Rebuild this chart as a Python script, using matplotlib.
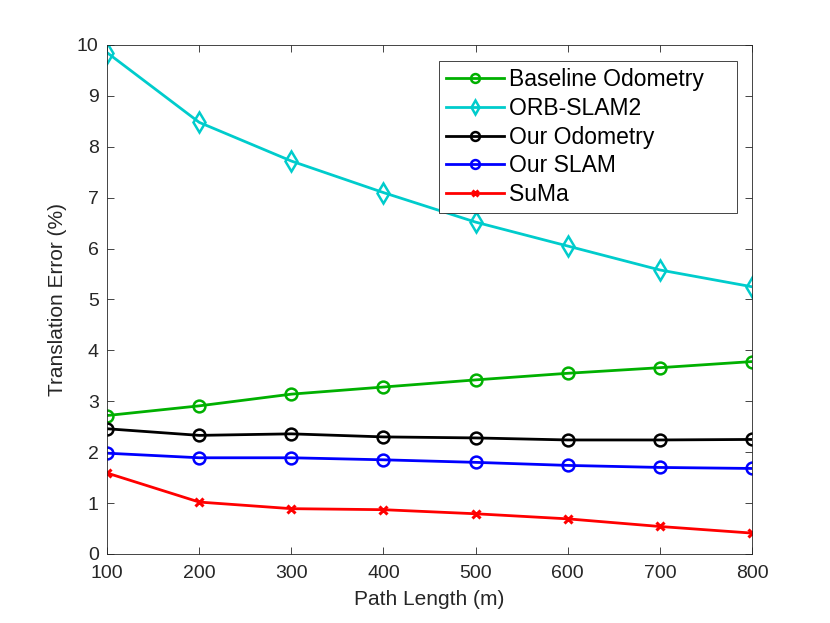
import matplotlib
matplotlib.use("Agg")
import matplotlib.pyplot as plt

path_length = [100, 200, 300, 400, 500, 600, 700, 800]

baseline_odom = [2.72, 2.91, 3.14, 3.28, 3.42, 3.55, 3.66, 3.78]
orb_slam2 = [9.85, 8.48, 7.72, 7.10, 6.52, 6.05, 5.58, 5.25]
our_odom = [2.46, 2.33, 2.36, 2.30, 2.28, 2.24, 2.24, 2.25]
our_slam = [1.98, 1.89, 1.89, 1.85, 1.80, 1.74, 1.70, 1.68]
suma = [1.59, 1.02, 0.89, 0.87, 0.79, 0.69, 0.54, 0.41]

plt.rcParams['font.family'] = ['Liberation Sans', 'DejaVu Sans']

fig = plt.figure(figsize=(8.3, 6.23), dpi=100)
ax = fig.add_axes([0.129, 0.1108, 0.777, 0.817])

lw = 2.0
ax.plot(path_length, baseline_odom, color='#00b000', marker='o', ms=8.5,
        mfc='none', mew=1.8, lw=lw, label='Baseline Odometry')
ax.plot(path_length, orb_slam2, color='#00cccc', marker='d', ms=10,
        mfc='none', mew=1.8, lw=lw, label='ORB-SLAM2')
ax.plot(path_length, our_odom, color='black', marker='o', ms=8.5,
        mfc='none', mew=1.8, lw=lw, label='Our Odometry')
ax.plot(path_length, our_slam, color='blue', marker='o', ms=8.5,
        mfc='none', mew=1.8, lw=lw, label='Our SLAM')
ax.plot(path_length, suma, color='red', marker='x', ms=6,
        mew=2.2, lw=lw, label='SuMa')

ax.set_xlim(100, 800)
ax.set_ylim(0, 10)
ax.set_xticks(path_length)
ax.set_yticks(range(0, 11))

for s in ax.spines.values():
    s.set_color('#262626')
    s.set_linewidth(0.6)
ax.tick_params(direction='in', length=5, width=0.6, colors='#262626',
               labelsize=14, top=True, right=True)
ax.tick_params(axis='x', pad=8)
ax.tick_params(axis='y', pad=6)

ax.set_xlabel('Path Length (m)', fontsize=15, color='#262626', labelpad=6)
ax.set_ylabel('Translation Error (%)', fontsize=15, color='#262626', labelpad=7)

# MATLAB legends leave extra room on the right
handles, labels = ax.get_legend_handles_labels()
labels = [l + '    ' for l in labels]
leg = ax.legend(handles, labels, loc='upper right', bbox_to_anchor=(0.976, 0.968),
                fontsize=16.5, handlelength=2.5, handletextpad=0.25, borderpad=0.3,
                labelspacing=0.25, fancybox=False, framealpha=1,
                markerscale=0.75, edgecolor='#262626', borderaxespad=0)
leg.get_frame().set_linewidth(0.6)

fig.savefig('out.png', dpi=100)
